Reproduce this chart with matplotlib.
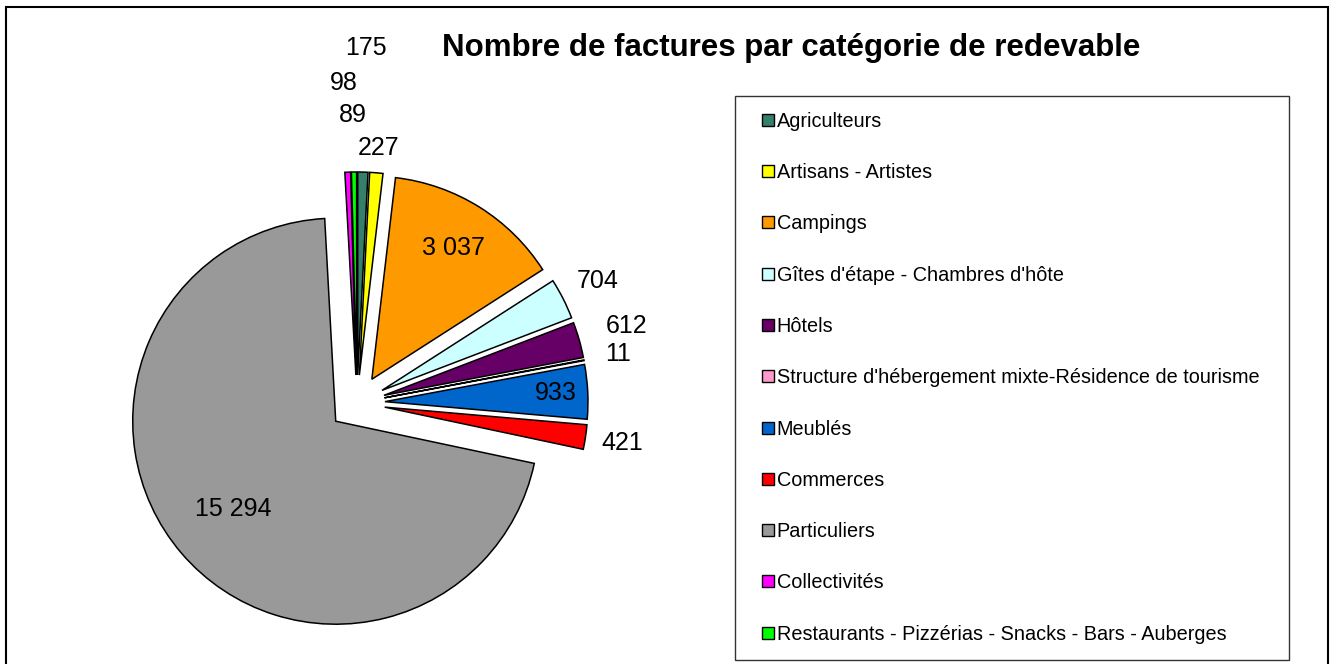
import numpy as np
import matplotlib
matplotlib.use("Agg")
import matplotlib.pyplot as plt
from matplotlib.lines import Line2D
from matplotlib.patches import Rectangle

plt.rcParams["font.family"] = ["Liberation Sans", "DejaVu Sans"]

# Data
categories = [
    "Agriculteurs",
    "Artisans - Artistes",
    "Campings",
    "Gîtes d'étape - Chambres d'hôte",
    "Hôtels",
    "Structure d'hébergement mixte-Résidence de tourisme",
    "Meublés",
    "Commerces",
    "Particuliers",
    "Collectivités",
    "Restaurants - Pizzérias - Snacks - Bars - Auberges",
]
factures = [175, 227, 3037, 704, 612, 11, 933, 421, 15294, 98, 89]
colors = ["#35806b", "#ffff00", "#ff9900", "#ccffff", "#660066", "#ff99cc",
          "#0066cc", "#ff0000", "#999999", "#ff00ff", "#00ff00"]

# radial distance of each value label (in pie radii)
label_dist = [1.75, 1.26, 0.90, 1.33, 1.38, 1.31, 0.98, 1.32, 0.80, 1.58, 1.42]

W, H = 1336, 664
cx, cy, R = 357, 403, 203  # pie centre and radius in pixels

fig = plt.figure(figsize=(W / 100, H / 100), dpi=100)
ax = fig.add_axes([0, 0, 1, 1])

wedges, _ = ax.pie(
    factures,
    colors=colors,
    startangle=90,
    counterclock=False,
    explode=[28 / R] * len(factures),
    wedgeprops=dict(edgecolor="black", linewidth=1.1),
)
ax.set_aspect("auto")
ax.set_xlim(-cx / R, (W - cx) / R)
ax.set_ylim(-(H - cy) / R, cy / R)
ax.axis("off")

for w, val, d in zip(wedges, factures, label_dist):
    ang = np.deg2rad((w.theta1 + w.theta2) / 2)
    txt = f"{val:,}".replace(",", " ")
    ax.text(d * np.cos(ang), d * np.sin(ang), txt, ha="center", va="center",
            fontsize=18, color="black")

fig.text(791 / W, 1 - 48 / H, "Nombre de factures par catégorie de redevable",
         ha="center", va="center", fontsize=22.5, fontweight="bold")

# square legend keys
handles = [Line2D([], [], linestyle="none", marker="s", markersize=8.3,
                  markerfacecolor=c, markeredgecolor="black", markeredgewidth=1.0)
           for c in colors]
leg = fig.legend(
    handles, categories,
    loc="upper left",
    bbox_to_anchor=(735 / W, 1 - 96 / H, (1289 - 735) / W, 0),
    mode="expand",
    frameon=True, fancybox=False, edgecolor="black",
    fontsize=14.3, handlelength=1.7,
    handletextpad=-0.4, labelspacing=1.625, borderpad=0.8,
    borderaxespad=0,
)
leg.get_frame().set_linewidth(1.0)

# outer chart border
fig.patches.append(Rectangle((6 / W, -0.01), (1328 - 6) / W, 1 - 7 / H + 0.01,
                             transform=fig.transFigure, fill=False,
                             edgecolor="black", linewidth=1.5))

fig.savefig("out.png", dpi=100, facecolor="white")
